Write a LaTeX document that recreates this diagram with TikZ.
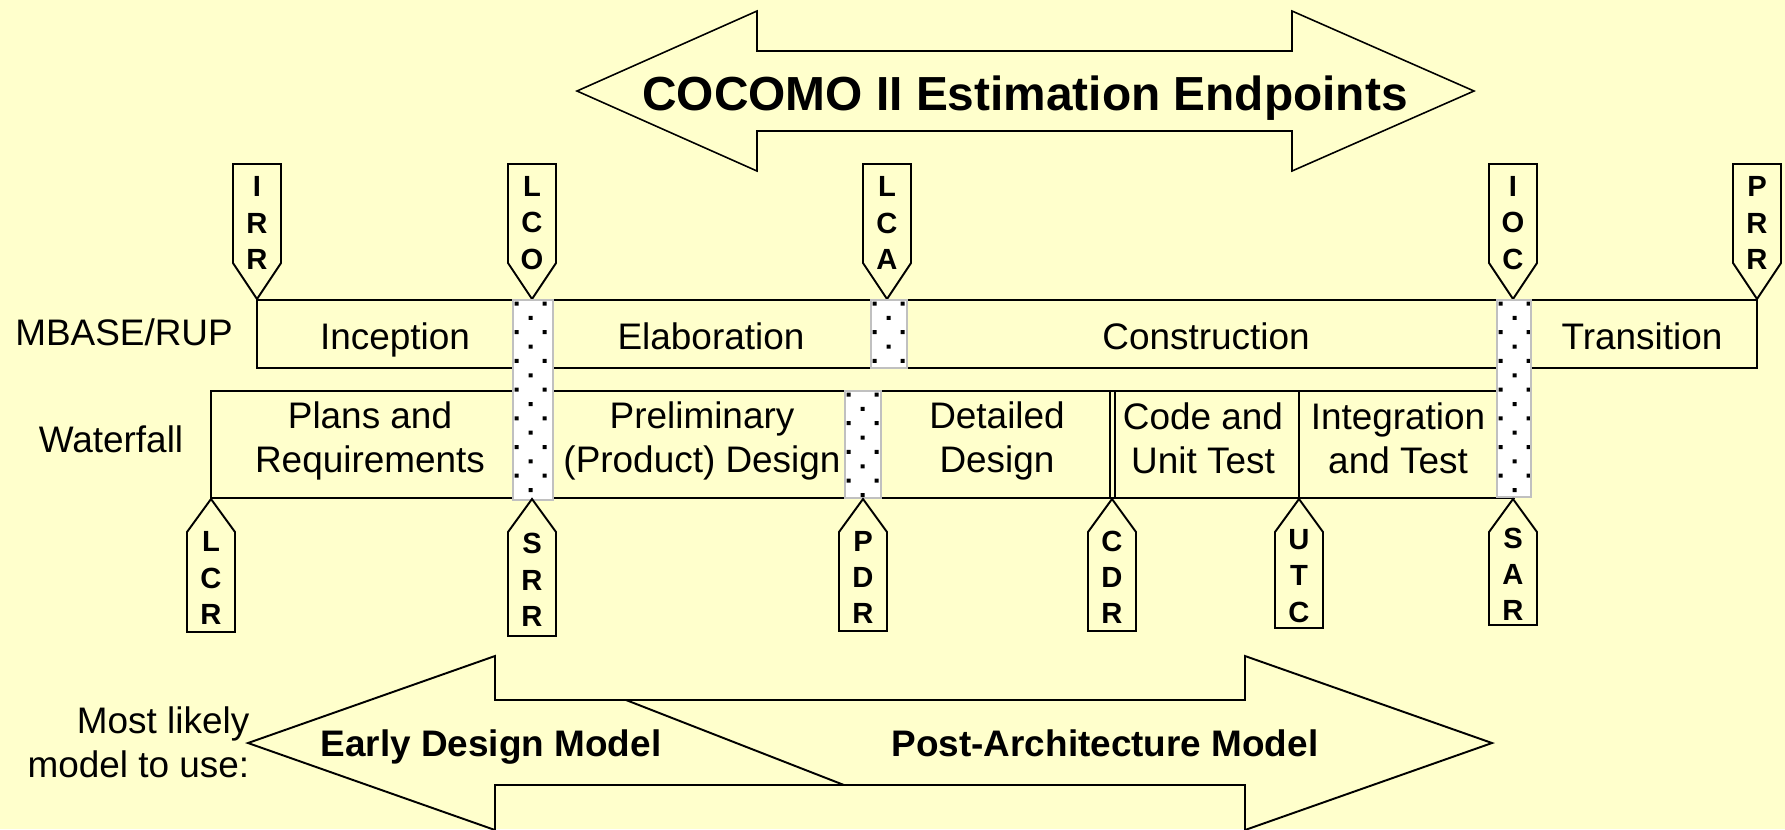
\documentclass[tikz,border=0pt]{standalone}
\usepackage{fontspec}
\setmainfont{Liberation Sans}
\usepackage{tikz}
\definecolor{bgyellow}{RGB}{255,255,204}
\definecolor{bargray}{RGB}{192,192,192}
\tikzset{phase/.style={font=\fontsize{10.5}{12.4}\selectfont, align=center, inner sep=0pt}}
\tikzset{milestone/.style={font=\bfseries\fontsize{8.3}{10.3}\selectfont, align=center, inner sep=0pt}}
\tikzset{model/.style={font=\bfseries\fontsize{10.5}{12.4}\selectfont, inner sep=0pt}}

\begin{document}
\begin{tikzpicture}[x=0.01cm, y=-0.01cm,
      outline/.style={draw=black, line width=0.55pt, fill=bgyellow},
      divider/.style={draw=black, line width=0.55pt},
      bigarrow/.style={draw=black, line width=0.45pt, fill=bgyellow},
      dotbar/.style={draw=bargray, line width=0.6pt, fill=white,
        path picture={
          \foreach \r in {0,...,7} {
            \fill[black, shift={(path picture bounding box.north west)}]
              (1.5,1.5+\r*28.7) rectangle ++(4,4)
              (29.5,1.5+\r*28.7) rectangle ++(4,4)
              (15.5,15.9+\r*28.7) rectangle ++(4,4);
          }}}]

    \useasboundingbox (0,0) rectangle (1785,829);
    \fill[bgyellow] (0,0) rectangle (1785,829);

    \draw[bigarrow] (577,91) -- (757,11) -- (757,51) -- (1292,51) -- (1292,11)
      -- (1474,91) -- (1292,171) -- (1292,131) -- (757,131) -- (757,171) -- cycle;
    \node[model, font=\bfseries\fontsize{13.6}{16}\selectfont, anchor=base]
      (Endpoints) at (1025,110) {COCOMO II Estimation Endpoints};

    \foreach \x/\name/\txt in {257/IRR/{I\\R\\R}, 532/LCO/{L\\C\\O}, 887/LCA/{L\\C\\A},
        1513/IOC/{I\\O\\C}, 1757/PRR/{P\\R\\R}} {
      \draw[outline] (\x-24,164) -- (\x+24,164) -- (\x+24,263) -- (\x,299) -- (\x-24,263) -- cycle;
      \node[milestone]
        (\name) at (\x,223) {\txt};
    }

    \draw[outline] (257,300) rectangle (1757,368);
    \draw[outline] (211,391) rectangle (1514,498);
    \draw[divider] (1110,391) -- (1110,498) (1115,391) -- (1115,498) (1299,391) -- (1299,498);

    \path[dotbar] (513,300) rectangle (553,500);
    \path[dotbar] (871,300) rectangle (907,368);
    \path[dotbar] (845,391) rectangle (881,498);
    \path[dotbar] (1497,300) rectangle (1531,497);

    \foreach \x/\b/\name/\txt in {211/632/LCR/{L\\C\\R}, 532/636/SRR/{S\\R\\R},
        863/631/PDR/{P\\D\\R}, 1112/631/CDR/{C\\D\\R}, 1299/628/UTC/{U\\T\\C},
        1513/625/SAR/{S\\A\\R}} {
      \draw[outline] (\x,499) -- (\x+24,532) -- (\x+24,\b) -- (\x-24,\b) -- (\x-24,532) -- cycle;
      \node[milestone]
        (\name) at (\x,{(532+\b)/2-4}) {\txt};
    }

    \node[phase, anchor=base]
      (MBASE) at (124,345) {MBASE/RUP};
    \node[phase, anchor=base]
      (Waterfall) at (111,452) {Waterfall};

    \node[phase, anchor=base]
      (Inception) at (395,349) {Inception};
    \node[phase, anchor=base]
      (Elaboration) at (711,349) {Elaboration};
    \node[phase, anchor=base]
      (Construction) at (1206,349) {Construction};
    \node[phase, anchor=base]
      (Transition) at (1642,349) {Transition};

    \node[phase]
      (Plans) at (370,441) {Plans and\\Requirements};
    \node[phase]
      (Preliminary) at (702,441) {Preliminary\\(Product) Design};
    \node[phase]
      (Detailed) at (997,441) {Detailed\\Design};
    \node[phase]
      (Code) at (1203,438) {Code and\\Unit Test};
    \node[phase]
      (Integration) at (1398,438) {Integration\\and Test};

    \draw[bigarrow, line width=0.55pt] (248,743) -- (495,656) -- (495,700) -- (1245,700) -- (1245,656)
      -- (1492,743) -- (1245,830) -- (1245,785) -- (495,785) -- (495,830) -- cycle;
    \draw[divider] (626,700) -- (844,785);

    \node[phase, align=right, anchor=east]
      (MostLikely) at (250,742) {Most likely\\model to use:};
    \node[model, anchor=base]
      (EarlyDesign) at (491,756) {Early Design Model};
    \node[model, anchor=base]
      (PostArch) at (1105,756) {Post-Architecture Model};

\end{tikzpicture}
\end{document}
